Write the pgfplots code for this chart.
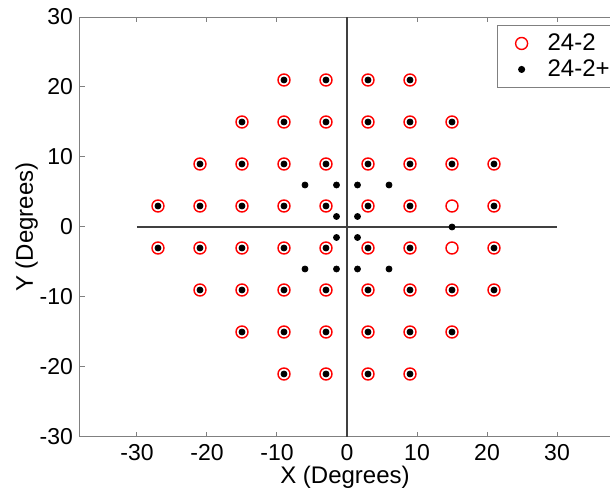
\documentclass[border=0pt]{standalone}
\usepackage{pgfplots}
\pgfplotsset{compat=1.18}
\usepackage{fontspec}
\setmainfont{Liberation Sans}
\definecolor{axgray}{HTML}{808080}
\definecolor{zline}{HTML}{404040}
\begin{document}
\begin{tikzpicture}
\begin{axis}[
  scale only axis,
  width=265pt, height=210pt,
  xmin=-38.14, xmax=37.57,
  ymin=-30, ymax=30,
  axis x line*=box, axis y line*=left,
  axis line style={axgray, line width=0.5pt},
  xtick={-30,-20,...,30}, ytick={-30,-20,...,30},
  tick style={axgray, line width=0.5pt},
  tick align=inside,
  major tick length=2.5pt,
  /pgf/number format/assume math mode=true,
  ticklabel style={font=\fontsize{11.5}{13}\selectfont},
  label style={font=\fontsize{12}{14}\selectfont},
  xlabel={X (Degrees)}, ylabel={Y (Degrees)},
  xlabel style={yshift=4pt},
  ylabel style={yshift=-6pt},
  legend style={at={(rel axis cs:0.787,1)}, anchor=north west, yshift=-4pt,
    draw=axgray, line width=0.5pt, font=\fontsize{12}{14}\selectfont,
    row sep=0pt, inner xsep=0pt, inner ysep=2.5pt,
    nodes={inner ysep=1.55pt}},
  legend image code/.code={\path[draw=none,fill=none] (0pt,-3pt) rectangle (23pt,3pt); \draw[#1] plot coordinates {(12pt,0pt)};},
  legend cell align=left,
]
\addplot[forget plot, zline, line width=0.75pt] coordinates {(-30,0) (30,0)};
\addplot[forget plot, zline, line width=0.75pt] coordinates {(0,-30) (0,30)};
\addplot[only marks, mark=o, mark size=3pt, red, mark options={line width=0.7pt}] coordinates {
(-9,21) (-3,21) (3,21) (9,21)
(-15,15) (-9,15) (-3,15) (3,15) (9,15) (15,15)
(-21,9) (-15,9) (-9,9) (-3,9) (3,9) (9,9) (15,9) (21,9)
(-27,3) (-21,3) (-15,3) (-9,3) (-3,3) (3,3) (9,3) (15,3) (21,3)
(-27,-3) (-21,-3) (-15,-3) (-9,-3) (-3,-3) (3,-3) (9,-3) (15,-3) (21,-3)
(-21,-9) (-15,-9) (-9,-9) (-3,-9) (3,-9) (9,-9) (15,-9) (21,-9)
(-15,-15) (-9,-15) (-3,-15) (3,-15) (9,-15) (15,-15)
(-9,-21) (-3,-21) (3,-21) (9,-21)
};
\addlegendentry{24-2}
\addplot[only marks, mark=*, mark size=1.5pt, black] coordinates {
(-9,21) (-3,21) (3,21) (9,21)
(-15,15) (-9,15) (-3,15) (3,15) (9,15) (15,15)
(-21,9) (-15,9) (-9,9) (-3,9) (3,9) (9,9) (15,9) (21,9)
(-27,3) (-21,3) (-15,3) (-9,3) (-3,3) (3,3) (9,3) (21,3)
(-27,-3) (-21,-3) (-15,-3) (-9,-3) (-3,-3) (3,-3) (9,-3) (21,-3)
(-21,-9) (-15,-9) (-9,-9) (-3,-9) (3,-9) (9,-9) (15,-9) (21,-9)
(-15,-15) (-9,-15) (-3,-15) (3,-15) (9,-15) (15,-15)
(-9,-21) (-3,-21) (3,-21) (9,-21)
(15,0)
(-6,6) (-1.5,6) (1.5,6) (6,6)
(-1.5,1.5) (1.5,1.5) (-1.5,-1.5) (1.5,-1.5)
(-6,-6) (-1.5,-6) (1.5,-6) (6,-6)
};
\addlegendentry{24-2+}
\end{axis}
\pgfresetboundingbox
\path ([xshift=-40pt,yshift=-27pt]current axis.south west) rectangle ([yshift=8.5pt]current axis.north east);
\end{tikzpicture}
\end{document}
